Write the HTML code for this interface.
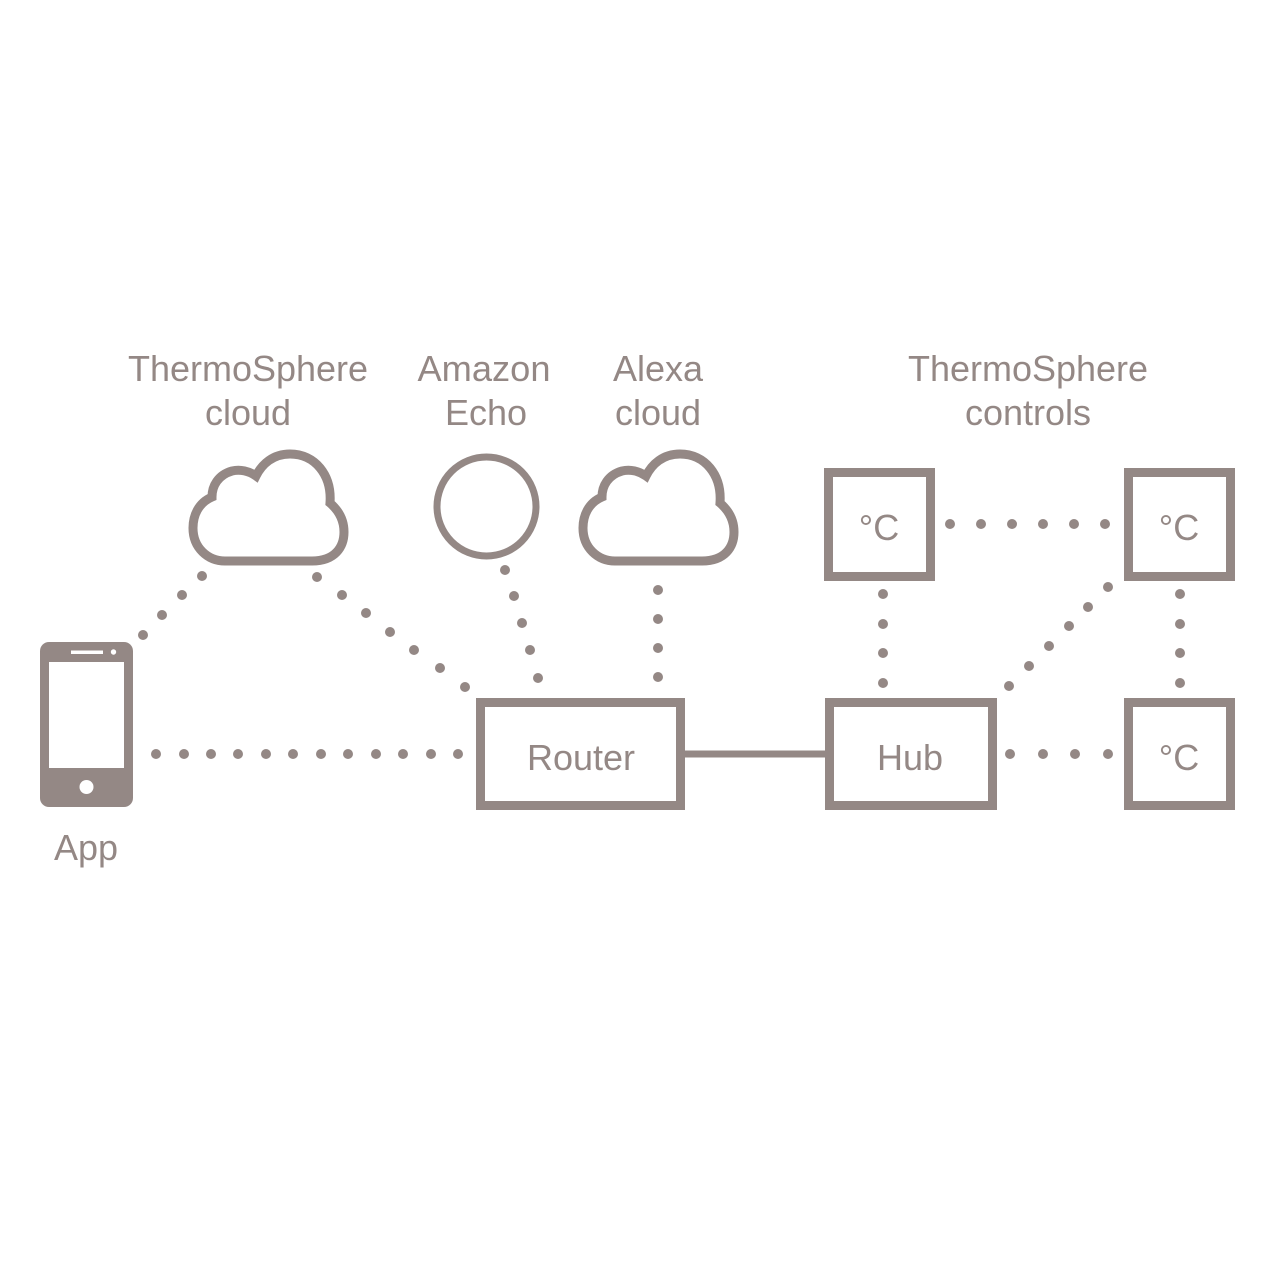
<!DOCTYPE html>
<html><head><meta charset="utf-8"><style>html,body{margin:0;padding:0;background:#fff}svg{display:block}</style></head>
<body>
<svg width="1271" height="1271" viewBox="0 0 1271 1271" xmlns="http://www.w3.org/2000/svg">
<defs>
<path id="cloud" d="M225,561 H312 C335,561 344,547 344,532 C344,518 337,509 330,503 C332,475 315,454 290,454 C273,454 262,464 256,476 C249,471 240,469 232,471 C218,475 212,486 212,497 C198,503 193,516 193,528 C193,548 208,561 225,561 Z"/>
</defs>
<g fill="none" stroke="#948885" stroke-width="9">
<use href="#cloud"/>
<use href="#cloud" transform="translate(390,0)"/>
<rect x="480.5" y="702.5" width="200" height="103"/>
<rect x="829.5" y="702.5" width="163" height="103"/>
<rect x="828.5" y="472.5" width="102" height="104"/>
<rect x="1128.5" y="472.5" width="102" height="104"/>
<rect x="1128.5" y="702.5" width="102" height="103"/>
</g>
<circle cx="486.5" cy="506.5" r="49.5" fill="none" stroke="#948885" stroke-width="7"/>
<line x1="685" y1="754" x2="825" y2="754" stroke="#948885" stroke-width="7"/>
<!-- phone -->
<rect x="40" y="642" width="93" height="165" rx="9" fill="#948885"/>
<rect x="49" y="662" width="75" height="106" fill="#fff"/>
<circle cx="86.5" cy="787" r="7" fill="#fff"/>
<rect x="71" y="650.5" width="32" height="3.5" fill="#fff"/>
<circle cx="113.5" cy="652" r="2.7" fill="#fff"/>
<g fill="#948885">
<circle cx="143" cy="635" r="5"/><circle cx="162" cy="615" r="5"/><circle cx="182" cy="595" r="5"/><circle cx="202" cy="576" r="5"/>
<circle cx="317" cy="577" r="5"/><circle cx="342" cy="595" r="5"/><circle cx="366" cy="613" r="5"/><circle cx="390" cy="632" r="5"/><circle cx="414" cy="650" r="5"/><circle cx="440" cy="668" r="5"/><circle cx="465" cy="687" r="5"/>
<circle cx="505" cy="570" r="5"/><circle cx="514" cy="596" r="5"/><circle cx="522" cy="623" r="5"/><circle cx="530" cy="650" r="5"/><circle cx="538" cy="678" r="5"/>
<circle cx="658" cy="590" r="5"/><circle cx="658" cy="619" r="5"/><circle cx="658" cy="648" r="5"/><circle cx="658" cy="677" r="5"/>
<circle cx="156" cy="754" r="5"/><circle cx="184" cy="754" r="5"/><circle cx="211" cy="754" r="5"/><circle cx="238" cy="754" r="5"/><circle cx="266" cy="754" r="5"/><circle cx="293" cy="754" r="5"/><circle cx="321" cy="754" r="5"/><circle cx="348" cy="754" r="5"/><circle cx="376" cy="754" r="5"/><circle cx="403" cy="754" r="5"/><circle cx="431" cy="754" r="5"/><circle cx="458" cy="754" r="5"/>
<circle cx="950" cy="524" r="5"/><circle cx="981" cy="524" r="5"/><circle cx="1012" cy="524" r="5"/><circle cx="1043" cy="524" r="5"/><circle cx="1074" cy="524" r="5"/><circle cx="1105" cy="524" r="5"/>
<circle cx="883" cy="594" r="5"/><circle cx="883" cy="624" r="5"/><circle cx="883" cy="653" r="5"/><circle cx="883" cy="683" r="5"/>
<circle cx="1180" cy="594" r="5"/><circle cx="1180" cy="624" r="5"/><circle cx="1180" cy="653" r="5"/><circle cx="1180" cy="683" r="5"/>
<circle cx="1009" cy="686" r="5"/><circle cx="1029" cy="666" r="5"/><circle cx="1049" cy="646" r="5"/><circle cx="1069" cy="626" r="5"/><circle cx="1088" cy="607" r="5"/><circle cx="1108" cy="587" r="5"/>
<circle cx="1010" cy="754" r="5"/><circle cx="1043" cy="754" r="5"/><circle cx="1075" cy="754" r="5"/><circle cx="1108" cy="754" r="5"/>
</g>
<g font-family="Liberation Sans, sans-serif" font-size="36" fill="#948885" text-anchor="middle">
<text x="248" y="381" textLength="240" lengthAdjust="spacingAndGlyphs">ThermoSphere</text>
<text x="248" y="425">cloud</text>
<text x="484" y="381" textLength="133" lengthAdjust="spacingAndGlyphs">Amazon</text>
<text x="486" y="425">Echo</text>
<text x="658" y="381">Alexa</text>
<text x="658" y="425">cloud</text>
<text x="1028" y="381" textLength="240" lengthAdjust="spacingAndGlyphs">ThermoSphere</text>
<text x="1028" y="425">controls</text>
<text x="581" y="770">Router</text>
<text x="910" y="770">Hub</text>
<text x="879" y="540">°C</text>
<text x="1179" y="540">°C</text>
<text x="1179" y="770">°C</text>
<text x="86" y="860">App</text>
</g>
</svg>
</body></html>
